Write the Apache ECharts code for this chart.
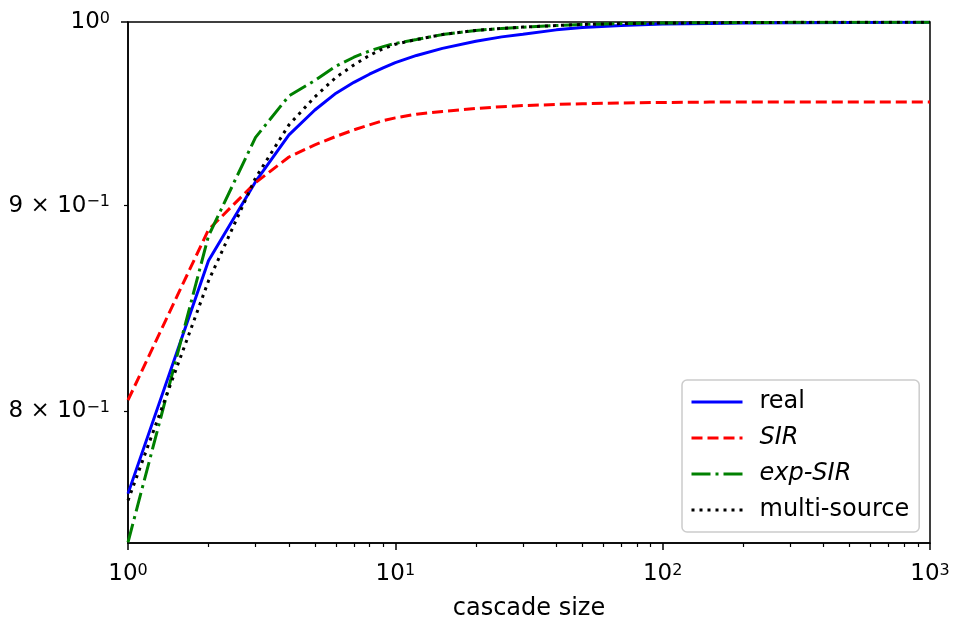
<!DOCTYPE html>
<html><head><meta charset="utf-8">
<script src="https://cdn.jsdelivr.net/npm/echarts@6/dist/echarts.min.js"></script>
<style>html,body{margin:0;padding:0;background:#fff}#c{width:954px;height:623px}</style>
</head><body><div id="c"></div>
<script>
// ---- data ----
const cascadeSizes      = [1, 2, 3, 4, 5, 6, 7, 8, 9, 10, 12, 15, 20, 25, 30, 40, 50, 70, 100, 150, 200, 300, 500, 1000];
const realValues        = [0.763, 0.872, 0.9125, 0.9373, 0.9508, 0.960, 0.966, 0.9705, 0.974, 0.977, 0.981, 0.985, 0.989, 0.9915, 0.993, 0.9955, 0.9968, 0.998, 0.9988, 0.9992, 0.9994, 0.9996, 0.9997, 0.9998];
const sirValues         = [0.805, 0.8877, 0.912, 0.9255, 0.932, 0.9365, 0.940, 0.9427, 0.945, 0.9465, 0.9485, 0.950, 0.9516, 0.9526, 0.9532, 0.9538, 0.9542, 0.9546, 0.9549, 0.9551, 0.9552, 0.9552, 0.9552, 0.9552];
const expSirValues      = [0.742, 0.8845, 0.936, 0.9585, 0.967, 0.975, 0.980, 0.9835, 0.986, 0.9878, 0.990, 0.9928, 0.9952, 0.9963, 0.997, 0.998, 0.9986, 0.9991, 0.9994, 0.9996, 0.9997, 0.9998, 0.9999, 0.9999];
const multiSourceValues = [0.760, 0.862, 0.9145, 0.9427, 0.958, 0.9688, 0.9757, 0.981, 0.9848, 0.9873, 0.990, 0.9928, 0.9952, 0.9963, 0.9971, 0.998, 0.9986, 0.9991, 0.9994, 0.9996, 0.9997, 0.9998, 0.9999, 0.9999];
const seriesNames = ['real', 'SIR', 'exp-SIR', 'multi-source'];
const xAxisName = 'cascade size';
const xRange = [1, 1000];
const yRange = [0.7417, 1];
const xTickValues = [1, 10, 100, 1000];
const xTickExponents = ['0', '1', '2', '3'];
const xMinorTickValues = [2,3,4,5,6,7,8,9,20,30,40,50,60,70,80,90,200,300,400,500,600,700,800,900];
const yTickValues = [0.8, 0.9, 1];
const yTickMantissas = ['8', '9', ''];
const yTickExponents = ['\u22121', '\u22121', '0'];
const yMajorTickValues = [1];
const yMinorTickValues = [0.8, 0.9];

// ---- chart ----
const L = Math.log10;
const FONT = 'DejaVu Sans';
const rich = {
  n: { fontSize: 23, fontFamily: FONT, color: '#000' },
  s: { fontSize: 16, fontFamily: FONT, color: '#000', verticalAlign: 'top', lineHeight: 4 }
};
function findIdx(arr, v) { return arr.findIndex(t => Math.abs(L(t) - v) < 1e-6); }
function xLabel(v) {
  const i = findIdx(xTickValues, v);
  if (i < 0) return '';
  return '{n|10}{s|' + xTickExponents[i] + '}';
}
function yLabel(v) {
  const i = findIdx(yTickValues, v);
  if (i < 0) return '';
  const m = yTickMantissas[i];
  return '{n|' + (m ? m + ' \u00d7 10' : '10') + '}{s|' + yTickExponents[i] + '}';
}
function toPoints(vals) { return cascadeSizes.map((x, i) => [L(x), L(vals[i])]); }

const styles = [
  { color: '#0000ff', type: 'solid' },
  { color: '#ff0000', type: [11, 5] },
  { color: '#008000', type: [19, 5, 3, 5] },
  { color: '#000000', type: [3, 5] }
];
const allVals = [realValues, sirValues, expSirValues, multiSourceValues];

const chart = echarts.init(document.getElementById('c'), null, { renderer: 'canvas' });
chart.setOption({
  animation: false,
  backgroundColor: '#fff',
  textStyle: { fontFamily: FONT },
  grid: { left: 128, right: 24, top: 22, bottom: 80, show: true, borderColor: '#000', borderWidth: 1.5,
          containLabel: false, outerBoundsMode: 'none' },
  legend: {
    orient: 'vertical', left: 682, top: 380,
    padding: [10, 10, 10, 8], itemGap: 12, itemWidth: 51, itemHeight: 20,
    borderColor: '#cccccc', borderWidth: 1.5, borderRadius: 5, backgroundColor: 'rgba(255,255,255,0.8)',
    data: seriesNames,
    itemStyle: { opacity: 0 },
    lineStyle: { width: 3, cap: 'butt' },
    textStyle: { fontSize: 24, fontFamily: FONT, color: '#000', padding: [0, 0, 0, 12],
      rich: { i: { fontSize: 24, fontFamily: FONT, fontStyle: 'italic', color: '#000' } } },
    formatter: name => (name === 'SIR' || name === 'exp-SIR') ? '{i|' + name + '}' : name
  },
  xAxis: [
    { type: 'value', min: L(xRange[0]), max: L(xRange[1]), interval: 1, position: 'bottom',
      name: xAxisName, nameLocation: 'middle', nameGap: 54,
      nameTextStyle: { fontSize: 24, fontFamily: FONT, color: '#000' },
      axisLine: { show: true, onZero: false, lineStyle: { color: '#000', width: 1.5 } },
      axisTick: { show: true, length: 7, lineStyle: { color: '#000', width: 1.5 }, customValues: xTickValues.map(L) },
      axisLabel: { show: true, margin: 20, formatter: xLabel, rich: rich, customValues: xTickValues.map(L) },
      splitLine: { show: false } },
    { type: 'value', min: L(xRange[0]), max: L(xRange[1]), position: 'bottom',
      axisLine: { show: false, onZero: false },
      axisTick: { show: true, length: 4, lineStyle: { color: '#000', width: 1.2 }, customValues: xMinorTickValues.map(L) },
      axisLabel: { show: false }, splitLine: { show: false } }
  ],
  yAxis: [
    { type: 'value', min: L(yRange[0]), max: L(yRange[1]), position: 'left',
      axisLine: { show: true, onZero: false, lineStyle: { color: '#000', width: 1.5 } },
      axisTick: { show: true, length: 7, lineStyle: { color: '#000', width: 1.5 }, customValues: yMajorTickValues.map(L) },
      axisLabel: { show: true, margin: 18, formatter: yLabel, rich: rich, customValues: yTickValues.map(L) },
      splitLine: { show: false } },
    { type: 'value', min: L(yRange[0]), max: L(yRange[1]), position: 'left',
      axisLine: { show: false, onZero: false },
      axisTick: { show: true, length: 4, lineStyle: { color: '#000', width: 1.2 }, customValues: yMinorTickValues.map(L) },
      axisLabel: { show: false }, splitLine: { show: false } }
  ],
  series: seriesNames.map((name, k) => ({
    name: name, type: 'line', xAxisIndex: 0, yAxisIndex: 0,
    data: toPoints(allVals[k]), showSymbol: false, symbol: 'none', smooth: false,
    lineStyle: { color: styles[k].color, width: 3, type: styles[k].type, cap: 'butt' },
    itemStyle: { color: styles[k].color },
    z: 2 + k
  }))
});
</script></body></html>
